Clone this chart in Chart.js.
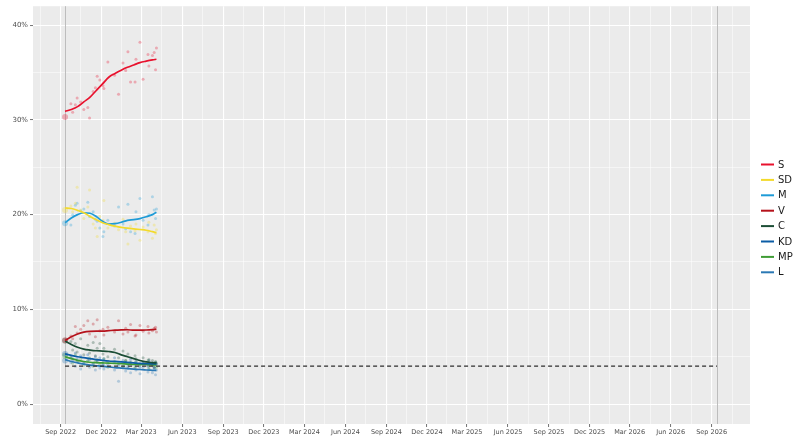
<!DOCTYPE html>
<html>
<head>
<meta charset="utf-8">
<script src="https://cdn.jsdelivr.net/npm/chart.js@4.4.0/dist/chart.umd.min.js"></script>
<style>
  html, body { margin: 0; padding: 0; background: #fff; }
</style>
</head>
<body>
<canvas id="pollChart" width="800" height="444"></canvas>
<script>
// Partis et couleurs
const partyNames = ['S', 'SD', 'M', 'V', 'C', 'KD', 'MP', 'L'];
const partyColors = ['#E8112D', '#F3DA2B', '#1E9BD7', '#B5121B', '#1B4D35', '#0B5CA5', '#3F9C35', '#2A78B4'];

// Valtid och resultat 2022
const electionDates = ['2022-09-11', '2026-09-13'];
const electionResult = [30.3, 20.5, 19.1, 6.75, 6.7, 5.3, 5.1, 4.6];
const threshold = 4;

// Mätningar
const pollDates = [
  '2022-09-24', '2022-09-28', '2022-10-04', '2022-10-08', '2022-10-16', '2022-10-23',
  '2022-11-01', '2022-11-05', '2022-11-13', '2022-11-18', '2022-11-22', '2022-11-28',
  '2022-12-05', '2022-12-07', '2022-12-16', '2022-12-31', '2023-01-09', '2023-01-19',
  '2023-01-25', '2023-01-30', '2023-02-05', '2023-02-15', '2023-02-17', '2023-02-26',
  '2023-03-05', '2023-03-16', '2023-03-18', '2023-03-26', '2023-03-30', '2023-04-02',
  '2023-04-04'
];
const pollS  = [31.7, 30.8, 31.6, 32.3, 31.9, 31.1, 31.3, 30.2, 33.0, 33.4, 34.6, 34.2, 33.6, 33.3, 36.1, 34.7, 32.7, 36.0, 35.2, 37.2, 34.0, 34.0, 36.4, 38.2, 34.3, 36.9, 35.7, 36.8, 37.1, 35.3, 37.6];
const pollSD = [20.9, 20.3, 21.2, 22.9, 20.5, 19.6, 20.8, 22.6, 19.0, 18.6, 17.7, 19.8, 19.4, 21.5, 18.6, 19.1, 18.4, 19.5, 18.2, 16.9, 18.8, 18.3, 19.0, 17.3, 18.7, 18.2, 19.2, 17.5, 18.9, 18.0, 18.4];
const pollM  = [18.9, 20.0, 21.0, 21.2, 20.4, 20.6, 21.3, 19.8, 20.3, 19.5, 19.3, 18.6, 17.7, 18.2, 19.4, 18.8, 20.8, 19.0, 18.5, 21.1, 18.2, 18.0, 20.3, 21.7, 19.4, 18.9, 20.0, 21.9, 20.5, 19.6, 20.6];
const pollV  = [7.2, 6.9, 8.2, 7.5, 7.9, 8.3, 8.8, 7.4, 8.45, 7.1, 8.9, 7.75, 7.9, 7.3, 8.1, 7.6, 8.8, 7.4, 8.0, 7.6, 8.4, 7.2, 7.3, 8.3, 7.7, 8.2, 7.5, 7.75, 8.0, 8.1, 7.6];
const pollC  = [6.6, 5.7, 6.4, 5.5, 6.9, 5.2, 6.2, 5.4, 6.5, 5.1, 5.9, 6.4, 5.3, 5.9, 5.0, 5.8, 4.9, 5.6, 4.6, 5.3, 4.4, 5.1, 4.8, 4.2, 4.9, 4.1, 4.7, 4.6, 3.9, 4.5, 4.3];
const pollKD = [5.0, 4.6, 5.4, 4.8, 5.1, 4.4, 5.2, 4.7, 4.3, 5.0, 4.6, 4.9, 4.2, 4.8, 4.5, 4.9, 4.1, 4.6, 4.4, 3.8, 4.7, 4.2, 4.5, 3.9, 4.3, 4.0, 4.6, 4.1, 3.8, 4.4, 4.2];
const pollMP = [4.9, 4.3, 5.2, 4.5, 4.8, 4.1, 4.6, 4.9, 4.0, 4.5, 4.7, 4.2, 4.4, 4.8, 3.9, 4.5, 4.3, 4.0, 4.6, 4.2, 4.4, 3.9, 4.5, 4.1, 4.3, 4.6, 3.8, 4.3, 4.1, 4.4, 3.9];
const pollL  = [4.4, 4.8, 4.0, 4.5, 3.7, 4.3, 4.6, 3.9, 4.2, 3.6, 4.4, 3.8, 4.1, 3.7, 4.2, 3.6, 2.4, 3.9, 3.5, 4.0, 3.3, 3.8, 3.6, 3.2, 3.9, 3.4, 3.7, 3.3, 3.8, 3.1, 3.6];

// Utjämnade trender
const trendDates = [
  '2022-09-11', '2022-09-25', '2022-10-09', '2022-10-23', '2022-11-06', '2022-11-20',
  '2022-12-04', '2022-12-18', '2023-01-01', '2023-01-15', '2023-01-29', '2023-02-12',
  '2023-02-26', '2023-03-12', '2023-03-26', '2023-04-04'
];
const trendS  = [30.9, 31.1, 31.4, 31.9, 32.4, 33.1, 33.8, 34.5, 34.9, 35.25, 35.55, 35.8, 36.05, 36.2, 36.33, 36.4];
const trendSD = [20.7, 20.65, 20.45, 20.2, 19.8, 19.45, 19.15, 18.95, 18.78, 18.65, 18.57, 18.5, 18.43, 18.35, 18.2, 18.1];
const trendM  = [19.15, 19.65, 20.0, 20.2, 20.15, 19.8, 19.3, 19.0, 19.05, 19.2, 19.4, 19.47, 19.58, 19.77, 20.0, 20.25];
const trendV  = [6.72, 7.1, 7.4, 7.6, 7.68, 7.7, 7.7, 7.75, 7.8, 7.83, 7.85, 7.8, 7.8, 7.82, 7.86, 7.9];
const trendC  = [6.65, 6.3, 6.0, 5.8, 5.7, 5.63, 5.6, 5.55, 5.45, 5.2, 5.0, 4.8, 4.6, 4.45, 4.38, 4.35];
const trendKD = [5.3, 5.15, 5.0, 4.9, 4.8, 4.7, 4.62, 4.55, 4.5, 4.45, 4.4, 4.35, 4.3, 4.27, 4.25, 4.25];
const trendMP = [5.0, 4.8, 4.62, 4.5, 4.42, 4.38, 4.35, 4.32, 4.3, 4.27, 4.23, 4.2, 4.2, 4.18, 4.15, 4.15];
const trendL  = [4.7, 4.5, 4.35, 4.22, 4.12, 4.05, 3.98, 3.92, 3.85, 3.8, 3.75, 3.7, 3.65, 3.6, 3.57, 3.55];

// Axlar
const xRange = ['2022-07-01', '2026-11-26'];
const xTickDates = [
  '2022-09-01', '2022-12-01', '2023-03-01', '2023-06-01', '2023-09-01', '2023-12-01',
  '2024-03-01', '2024-06-01', '2024-09-01', '2024-12-01', '2025-03-01', '2025-06-01',
  '2025-09-01', '2025-12-01', '2026-03-01', '2026-06-01', '2026-09-01'
];
const xTickLabels = [
  'Sep 2022', 'Dec 2022', 'Mar 2023', 'Jun 2023', 'Sep 2023', 'Dec 2023',
  'Mar 2024', 'Jun 2024', 'Sep 2024', 'Dec 2024', 'Mar 2025', 'Jun 2025',
  'Sep 2025', 'Dec 2025', 'Mar 2026', 'Jun 2026', 'Sep 2026'
];
const yRange = [-2.1, 42];
const yTickValues = [0, 10, 20, 30, 40];

const polls = [pollS, pollSD, pollM, pollV, pollC, pollKD, pollMP, pollL];
const trends = [trendS, trendSD, trendM, trendV, trendC, trendKD, trendMP, trendL];

const toMs = d => Date.parse(d + 'T00:00:00Z');

function withAlpha(hex, a) {
  const n = parseInt(hex.slice(1), 16);
  return `rgba(${(n >> 16) & 255}, ${(n >> 8) & 255}, ${n & 255}, ${a})`;
}

// majors + mineurs au milieu
function withMinors(majors) {
  const out = [];
  const step0 = majors[1] - majors[0];
  const stepN = majors[majors.length - 1] - majors[majors.length - 2];
  out.push({ value: majors[0] - step0 / 2, minor: true });
  majors.forEach((v, i) => {
    out.push({ value: v, minor: false, idx: i });
    const next = i < majors.length - 1 ? majors[i + 1] : v + stepN;
    out.push({ value: (v + next) / 2, minor: true });
  });
  return out;
}

const datasets = [];
partyNames.forEach((name, i) => {
  const pts = [{ x: toMs(electionDates[0]), y: electionResult[i] }]
    .concat(pollDates.map((d, j) => ({ x: toMs(d), y: polls[i][j] })));
  datasets.push({
    type: 'scatter',
    label: name + ' mätningar',
    data: pts,
    backgroundColor: withAlpha(partyColors[i], 0.3),
    borderColor: 'rgba(0,0,0,0)',
    pointRadius: ctx => ctx.dataIndex === 0 ? 3 : 1.5,
    order: 2
  });
});
partyNames.forEach((name, i) => {
  datasets.push({
    type: 'line',
    label: name,
    data: trendDates.map((d, j) => ({ x: toMs(d), y: trends[i][j] })),
    borderColor: partyColors[i],
    borderWidth: 1.7,
    pointRadius: 0,
    cubicInterpolationMode: 'monotone',
    fill: false,
    order: 1
  });
});
datasets.push({
  type: 'line',
  label: 'spärr',
  data: electionDates.map(d => ({ x: toMs(d), y: threshold })),
  borderColor: '#2E2E2E',
  borderWidth: 1.2,
  borderDash: [4, 3],
  pointRadius: 0,
  order: 0
});

const panelBg = {
  id: 'panelBg',
  beforeDraw(chart) {
    const { ctx, chartArea: a } = chart;
    ctx.save();
    ctx.fillStyle = '#EBEBEB';
    ctx.fillRect(a.left, a.top, a.right - a.left, a.bottom - a.top);
    ctx.restore();
  }
};

const electionLines = {
  id: 'electionLines',
  beforeDatasetsDraw(chart) {
    const { ctx, chartArea: a, scales } = chart;
    ctx.save();
    ctx.strokeStyle = '#BDBDBD';
    ctx.lineWidth = 1;
    electionDates.forEach(d => {
      const x = Math.round(scales.x.getPixelForValue(toMs(d))) + 0.5;
      ctx.beginPath();
      ctx.moveTo(x, a.top);
      ctx.lineTo(x, a.bottom);
      ctx.stroke();
    });
    ctx.restore();
  }
};

const sideLegend = {
  id: 'sideLegend',
  afterDraw(chart) {
    const { ctx, chartArea: a } = chart;
    const x0 = a.right + 11;
    const y0 = 164.5;
    const gap = 15.4;
    ctx.save();
    ctx.font = '10px "DejaVu Sans"';
    ctx.textBaseline = 'middle';
    ctx.fillStyle = '#1A1A1A';
    partyNames.forEach((name, i) => {
      const y = y0 + i * gap;
      ctx.strokeStyle = partyColors[i];
      ctx.lineWidth = 2;
      ctx.beginPath();
      ctx.moveTo(x0, y);
      ctx.lineTo(x0 + 13, y);
      ctx.stroke();
      ctx.fillText(name, x0 + 17, y + 0.5);
    });
    ctx.restore();
  }
};

const chart = new Chart(document.getElementById('pollChart'), {
  data: { datasets },
  options: {
    responsive: false,
    animation: false,
    layout: { padding: { top: 3, right: 50, left: 0, bottom: 0 } },
    plugins: { legend: { display: false }, tooltip: { enabled: false } },
    scales: {
      x: {
        type: 'linear',
        min: toMs(xRange[0]),
        max: toMs(xRange[1]),
        afterBuildTicks(scale) {
          scale.ticks = withMinors(xTickDates.map(toMs));
        },
        afterFit(scale) { scale.height = 20; },
        border: { display: false },
        grid: {
          color: '#FFFFFF',
          lineWidth: ctx => ctx.tick && ctx.tick.minor ? 0.5 : 1.1,
          tickColor: ctx => ctx.tick && ctx.tick.minor ? 'rgba(0,0,0,0)' : '#4D4D4D',
          tickLength: 3,
          tickWidth: 0.8
        },
        ticks: {
          autoSkip: false,
          maxRotation: 0,
          minRotation: 0,
          padding: 1,
          color: '#4D4D4D',
          font: { family: 'DejaVu Sans', size: 6.5 },
          callback: (v, i, ticks) => ticks[i].minor ? '' : xTickLabels[ticks[i].idx]
        }
      },
      y: {
        type: 'linear',
        min: yRange[0],
        max: yRange[1],
        afterBuildTicks(scale) {
          scale.ticks = withMinors(yTickValues).filter(t => t.value >= yRange[0] && t.value <= yRange[1]);
        },
        afterFit(scale) { scale.width = 33; },
        border: { display: false },
        grid: {
          color: '#FFFFFF',
          lineWidth: ctx => ctx.tick && ctx.tick.minor ? 0.5 : 1.1,
          tickColor: ctx => ctx.tick && ctx.tick.minor ? 'rgba(0,0,0,0)' : '#4D4D4D',
          tickLength: 3,
          tickWidth: 0.8
        },
        ticks: {
          padding: 2,
          color: '#4D4D4D',
          font: { family: 'DejaVu Sans', size: 7 },
          callback: (v, i, ticks) => ticks[i].minor ? '' : yTickValues[ticks[i].idx] + '%'
        }
      }
    }
  },
  plugins: [panelBg, electionLines, sideLegend]
});
</script>
</body>
</html>
